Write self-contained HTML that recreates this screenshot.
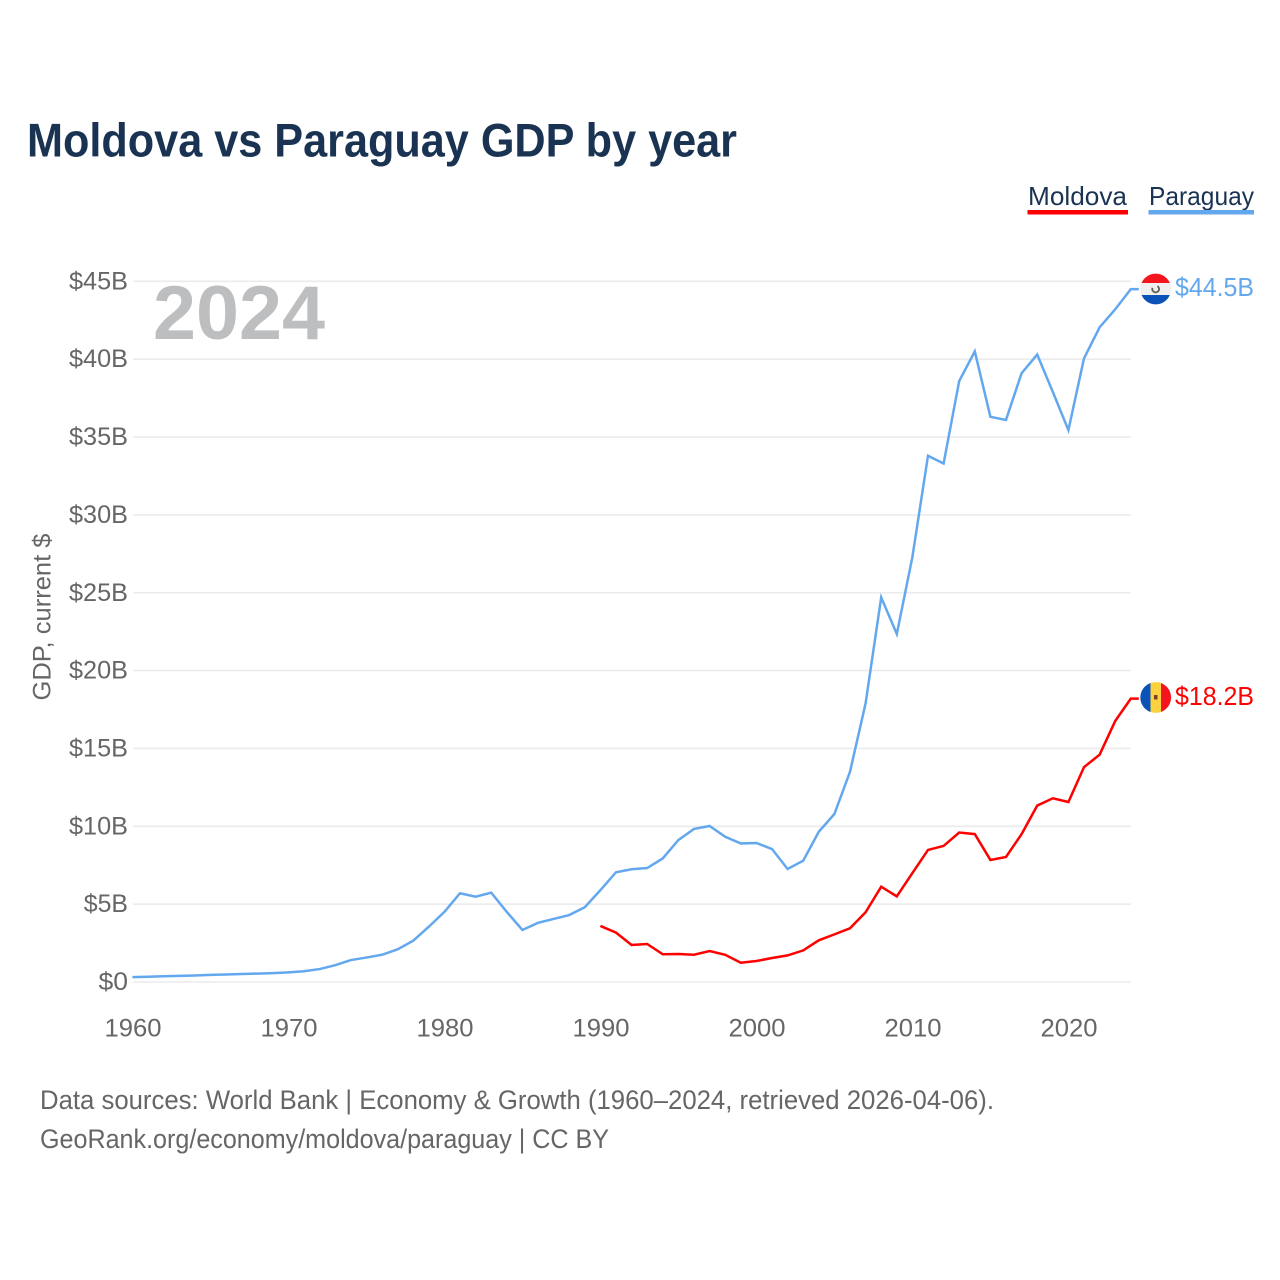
<!DOCTYPE html>
<html lang="en">
<head>
<meta charset="utf-8">
<title>Moldova vs Paraguay GDP by year</title>
<style>
html,body{margin:0;padding:0;background:#fff;}
svg{display:block;font-family:"Liberation Sans",sans-serif;}
</style>
</head>
<body>
<svg id="chart" xmlns="http://www.w3.org/2000/svg" width="1280" height="1280" viewBox="0 0 1280 1280">
  <rect x="0" y="0" width="1280" height="1280" fill="#ffffff"/>
  <text x="27" y="156.5" font-size="47" font-weight="700" fill="#1a3352" textLength="710" lengthAdjust="spacingAndGlyphs">Moldova vs Paraguay GDP by year</text>

  <g>
    <g>
      <text x="1028" y="205" font-size="26" fill="#1a3352" textLength="99" lengthAdjust="spacingAndGlyphs">Moldova</text>
      <rect x="1027.5" y="210" width="100.5" height="4.5" fill="#ff0000"/>
    </g>
    <g>
      <text x="1149" y="205" font-size="26" fill="#1a3352" textLength="105" lengthAdjust="spacingAndGlyphs">Paraguay</text>
      <rect x="1148.5" y="210" width="105.5" height="4.5" fill="#63a8ee"/>
    </g>
  </g>

  <g id="grid"></g>
  <g id="yticks"></g>
  <g id="xticks"></g>

  <text transform="translate(50.5,617) rotate(-90)" text-anchor="middle" font-size="25" fill="#666666" textLength="167" lengthAdjust="spacingAndGlyphs">GDP, current $</text>
  <text x="153" y="339" font-size="76" font-weight="700" fill="#bdbec0" textLength="172" lengthAdjust="spacingAndGlyphs">2024</text>

  <g id="series"></g>

  <defs>
    <clipPath id="clip-py"><circle cx="1155.7" cy="289" r="15.4"/></clipPath>
    <clipPath id="clip-md"><circle cx="1155.7" cy="697.5" r="15.4"/></clipPath>
  </defs>

  <g clip-path="url(#clip-py)">
    <rect x="1140" y="273" width="32" height="10.5" fill="#f4161c"/>
    <rect x="1140" y="283" width="32" height="12.5" fill="#f0f0f0"/>
    <rect x="1140" y="295" width="32" height="11" fill="#0a52b8"/>
    <circle cx="1155.7" cy="289" r="3.4" fill="none" stroke="#5f5f52" stroke-width="1.8" stroke-dasharray="15 6" transform="rotate(-55 1155.7 289)"/>
  </g>
  <g clip-path="url(#clip-md)">
    <rect x="1140" y="681" width="11" height="33" fill="#0a52b8"/>
    <rect x="1150.5" y="681" width="11" height="33" fill="#fdd23f"/>
    <rect x="1161" y="681" width="11" height="33" fill="#f4161c"/>
    <rect x="1154" y="695" width="3.5" height="4.5" fill="#7a3d2a"/>
  </g>

  <text x="1175" y="296" font-size="26" fill="#63a8ee" textLength="79" lengthAdjust="spacingAndGlyphs">$44.5B</text>
  <text x="1175" y="705" font-size="26" fill="#ff0000" textLength="79" lengthAdjust="spacingAndGlyphs">$18.2B</text>

  <text x="40" y="1109" font-size="26.5" fill="#666666" textLength="954" lengthAdjust="spacingAndGlyphs">Data sources: World Bank | Economy &amp; Growth (1960–2024, retrieved 2026-04-06).</text>
  <text x="40" y="1148" font-size="26.5" fill="#666666" textLength="569" lengthAdjust="spacingAndGlyphs">GeoRank.org/economy/moldova/paraguay | CC BY</text>
</svg>

<script>
const paraguayYears = [1960,1961,1962,1963,1964,1965,1966,1967,1968,1969,1970,1971,1972,1973,1974,1975,1976,1977,1978,1979,1980,1981,1982,1983,1984,1985,1986,1987,1988,1989,1990,1991,1992,1993,1994,1995,1996,1997,1998,1999,2000,2001,2002,2003,2004,2005,2006,2007,2008,2009,2010,2011,2012,2013,2014,2015,2016,2017,2018,2019,2020,2021,2022,2023,2024];
const paraguayGdp = [0.31,0.34,0.37,0.39,0.42,0.46,0.48,0.51,0.54,0.57,0.62,0.69,0.83,1.08,1.41,1.57,1.75,2.1,2.65,3.55,4.5,5.7,5.48,5.74,4.5,3.34,3.8,4.05,4.3,4.8,5.9,7.05,7.24,7.32,7.94,9.12,9.83,10.02,9.33,8.9,8.93,8.54,7.26,7.79,9.65,10.79,13.5,17.9,24.7,22.35,27.3,33.8,33.3,38.6,40.5,36.3,36.1,39.1,40.3,37.9,35.45,40.05,42.05,43.2,44.5];
const moldovaYears = [1990,1991,1992,1993,1994,1995,1996,1997,1998,1999,2000,2001,2002,2003,2004,2005,2006,2007,2008,2009,2010,2011,2012,2013,2014,2015,2016,2017,2018,2019,2020,2021,2022,2023,2024];
const moldovaGdp = [3.6,3.17,2.38,2.44,1.78,1.8,1.75,1.99,1.75,1.24,1.35,1.54,1.71,2.03,2.68,3.06,3.45,4.48,6.12,5.5,7.0,8.48,8.74,9.6,9.5,7.84,8.03,9.5,11.33,11.8,11.56,13.8,14.6,16.76,18.2];
const yTickValues = [0,5,10,15,20,25,30,35,40,45];
const yTickLabels = ["$0","$5B","$10B","$15B","$20B","$25B","$30B","$35B","$40B","$45B"];
const xTickValues = [1960,1970,1980,1990,2000,2010,2020];
const xTickLabels = ["1960","1970","1980","1990","2000","2010","2020"];

const NS = "http://www.w3.org/2000/svg";
function xScale(year){ return 132.4 + (year - 1960) * 15.6; }
function yScale(value){ return 982 - value * 15.57; }
function make(tag, attrs, parent){
  const el = document.createElementNS(NS, tag);
  for (const k in attrs) el.setAttribute(k, attrs[k]);
  parent.appendChild(el);
  return el;
}

const grid = document.getElementById("grid");
const yticks = document.getElementById("yticks");
yTickValues.forEach(function(v, i){
  const y = yScale(v);
  const line = make("line", {x1:133, x2:1131, y1:y, y2:y, stroke:"#ebebeb", "stroke-width":1.6}, grid);
  
  
  const label = yTickLabels[i];
  const t = make("text", {x:128, y:y + 8, "text-anchor":"end", "font-size":25, fill:"#666666", textLength:label.length * 14.75, lengthAdjust:"spacingAndGlyphs"}, yticks);
  
  
  t.textContent = label;
});

const xticks = document.getElementById("xticks");
xTickValues.forEach(function(v, i){
  const t = make("text", {x:133 + (v - 1960) * 15.6, y:1036.5, "text-anchor":"middle", "font-size":25, fill:"#666666", textLength:57, lengthAdjust:"spacingAndGlyphs"}, xticks);
  
  
  t.textContent = xTickLabels[i];
});

function linePath(years, values){
  const pts = years.map(function(yr, i){ return xScale(yr).toFixed(2) + "," + yScale(values[i]).toFixed(2); });
  const last = values.length - 1;
  pts.push((xScale(years[last]) + 8).toFixed(2) + "," + yScale(values[last]).toFixed(2));
  return "M" + pts.join("L");
}
const series = document.getElementById("series");
const pyLine = make("path", {d:linePath(paraguayYears, paraguayGdp), fill:"none", stroke:"#63a8ee", "stroke-width":2.5, "stroke-linejoin":"miter"}, series);


const mdLine = make("path", {d:linePath(moldovaYears, moldovaGdp), fill:"none", stroke:"#ff0000", "stroke-width":2.5, "stroke-linejoin":"miter"}, series);


</script>
</body>
</html>
